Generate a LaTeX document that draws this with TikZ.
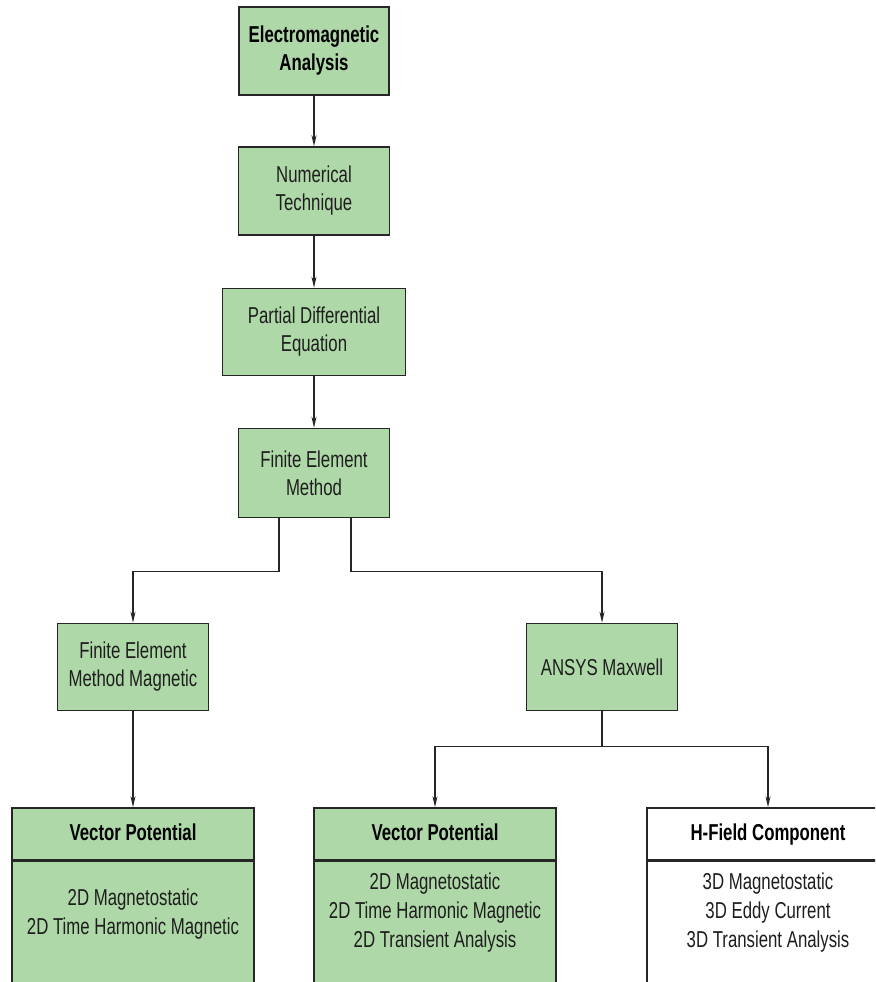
\documentclass[tikz,border=0pt]{standalone}
\usepackage{fontspec}
\setmainfont[FakeStretch=0.73]{Liberation Sans}
\usetikzlibrary{arrows.meta}
\definecolor{boxgreen}{RGB}{175,216,168}
\definecolor{txtgrey}{RGB}{30,30,30}
\begin{document}
\begin{tikzpicture}[x=1pt,y=-1pt,
  box/.style={draw=black!85,line width=1.6pt,fill=boxgreen,align=center,inner sep=0pt,
    font=\fontsize{23}{28}\selectfont,text=txtgrey},
  head/.style={box,font=\fontsize{23}{28}\selectfont\bfseries,text=black,
    text height=17pt,text depth=5pt,minimum width=242pt,minimum height=52pt},
  body/.style={box,minimum width=242pt,minimum height=160pt,anchor=north},
  bodytext/.style={align=center,inner sep=0pt,font=\fontsize{23}{29}\selectfont,text=txtgrey},
  arr/.style={line width=1.2pt,draw=black!85,-{Stealth[length=11pt,width=5pt]}}]
  \useasboundingbox (0,0) rectangle (875,982);
  \clip (0,0) rectangle (875,982);
  \node[box,font=\fontsize{23}{28}\selectfont\bfseries,text=black,
    minimum width=150pt,minimum height=88pt] (ema) at (314,51) {Electromagnetic\\Analysis};
  \node[box,minimum width=151pt,minimum height=88pt] (num) at (314,191) {Numerical\\Technique};
  \node[box,minimum width=183pt,minimum height=87pt] (pde) at (314,332) {Partial Differential\\Equation};
  \node[box,minimum width=151pt,minimum height=89pt] (fem) at (314,473) {Finite Element\\Method};
  \node[box,minimum width=151pt,minimum height=87pt] (femm) at (133,667) {Finite Element\\Method Magnetic};
  \node[box,minimum width=151pt,minimum height=87pt] (ansys) at (602,667) {ANSYS Maxwell};
  \node[head] (vpl) at (133,834) {Vector Potential};
  \node[head] (vpm) at (435,834) {Vector Potential};
  \node[head,fill=white] (hfc) at (768,834) {H-Field Component};
  \node[body] (vplb) at (vpl.south) {};
  \node[body] (vpmb) at (vpm.south) {};
  \node[body,fill=white] (hfcb) at (hfc.south) {};
  \node[bodytext] (vplt) at (133,914) {2D Magnetostatic\\2D Time Harmonic Magnetic};
  \node[bodytext] (vpmt) at (435,913) {2D Magnetostatic\\2D Time Harmonic Magnetic\\2D Transient Analysis};
  \node[bodytext] (hfct) at (768,913) {3D Magnetostatic\\3D Eddy Current\\3D Transient Analysis};
  \draw[arr] (ema) -- (num);
  \draw[arr] (num) -- (pde);
  \draw[arr] (pde) -- (fem);
  \draw[arr] ([xshift=-35pt]fem.south) -- ++(0,53) -| (femm.north);
  \draw[arr] ([xshift=37pt]fem.south) -- ++(0,53) -| (ansys.north);
  \draw[arr] (femm) -- (vpl);
  \draw[arr] (ansys.south) -- ++(0,35) -| (vpm.north);
  \draw[arr] (ansys.south) -- ++(0,35) -| (hfc.north);
\end{tikzpicture}
\end{document}
